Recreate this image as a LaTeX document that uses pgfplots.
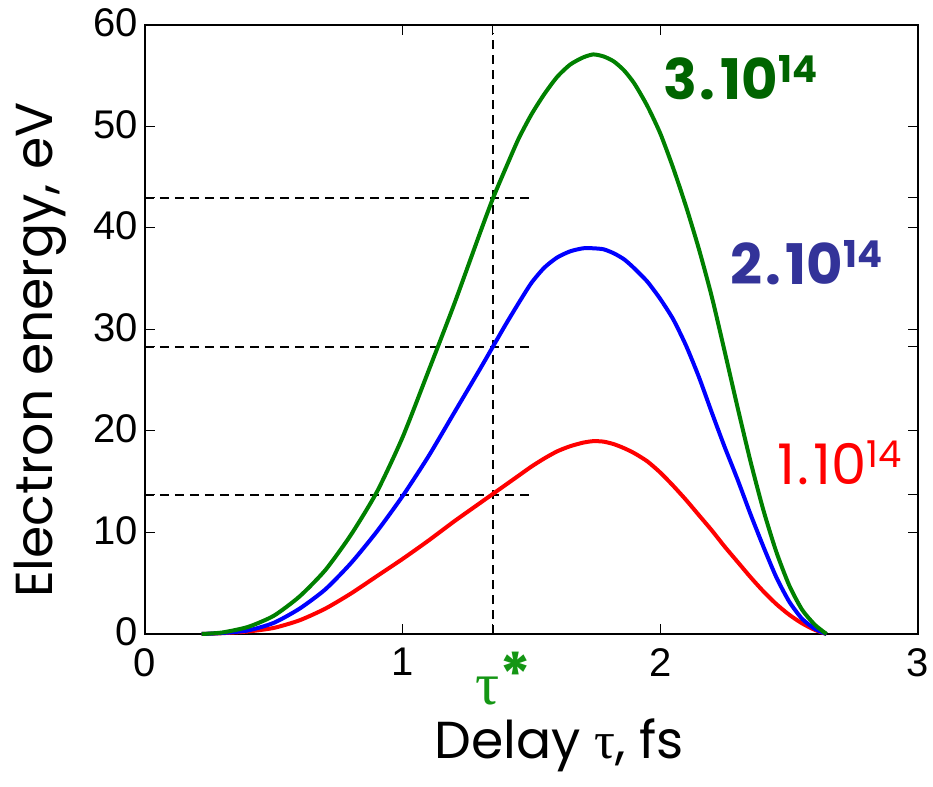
\documentclass[border=0pt]{standalone}
\usepackage{pgfplots}
\pgfplotsset{compat=1.18}
\usepackage{fontspec}
\setmainfont{Liberation Sans}
\newfontfamily\comic{Poppins}
\newfontfamily\greek{Liberation Serif}
\definecolor{cgreen}{RGB}{0,128,0}
\definecolor{dgreen}{RGB}{0,100,0}
\definecolor{tgreen}{RGB}{20,150,20}
\definecolor{navy}{RGB}{51,51,153}
\pgfplotstableread{
x     red    blue  green
0.22  0.0    0.0   0.0
0.30  0.08   0.1   0.15
0.40  0.25   0.35  0.7
0.50  0.6    1.1   1.8
0.60  1.35   2.5   3.7
0.70  2.5    4.4   6.3
0.80  4.0    7.0   9.8
0.90  5.7    10.1  14.0
1.00  7.4    13.6  19.4
1.10  9.2    17.5  25.9
1.20  11.1   21.8  32.5
1.30  12.9   26.1  39.5
1.35  13.8   28.3  42.9
1.40  14.7   30.5  45.9
1.45  15.6   32.6  48.8
1.50  16.5   34.6  51.2
1.55  17.3   36.1  53.2
1.60  18.0   37.1  54.9
1.65  18.5   37.7  56.1
1.70  18.85  38.0  56.8
1.74  19.0   38.0  57.1
1.78  18.95  37.9  56.9
1.82  18.7   37.5  56.4
1.86  18.3   36.9  55.5
1.90  17.8   36.0  54.2
1.95  17.0   34.7  52.0
2.00  15.9   33.0  49.3
2.05  14.6   31.0  45.9
2.10  13.2   28.4  42.1
2.15  11.7   25.3  37.9
2.20  10.2   21.8  33.2
2.25  8.6    18.4  27.8
2.30  7.1    15.2  22.3
2.35  5.6    11.8  17.0
2.40  4.2    8.6   12.2
2.45  2.95   5.6   8.1
2.50  1.9    3.2   4.8
2.55  1.05   1.5   2.4
2.60  0.4    0.5   0.9
2.645 0.0    0.0   0.0
}\datatable
\begin{document}
\begin{tikzpicture}
\begin{axis}[name=ax,
  width=773pt, height=609pt, scale only axis,
  xmin=0, xmax=3, ymin=0, ymax=60,
  xtick={0,1,1.35,2,3}, xticklabels={0,1,,2,3},
  ytick={0,10,13.7,20,28.3,30,40,43,50,60},
  yticklabels={0,10,,20,,30,40,,50,60},
  tick align=inside, major tick length=10pt,
  tick style={black, line width=1pt},
  axis line style={line width=1.5pt},
  ticklabel style={font=\fontsize{40}{40}\selectfont, inner sep=1pt},
  xticklabel style={yshift=-13pt},
  yticklabel style={xshift=-6pt, yshift=2pt},
  /pgf/number format/assume math mode=true,
  xlabel={\comic Delay {\greek τ}, fs},
  ylabel={\comic Electron energy, eV},
  label style={font=\fontsize{52}{52}\selectfont},
  xlabel style={at={(axis description cs:0.536,-0.182)}, anchor=center},
  ylabel style={at={(axis description cs:-0.135,0.466)}, anchor=center},
  clip=false,
]
\addplot[black, line width=2pt, dash pattern=on 9pt off 6pt] coordinates {(1.35,0) (1.35,59.2)};
\addplot[black, line width=2pt, dash pattern=on 9pt off 6pt] coordinates {(0,43) (1.5,43)};
\addplot[black, line width=2pt, dash pattern=on 9pt off 6pt] coordinates {(0,28.3) (1.5,28.3)};
\addplot[black, line width=2pt, dash pattern=on 9pt off 6pt] coordinates {(0,13.7) (1.5,13.7)};
\addplot[red, line width=4pt, smooth, tension=0.4] table[x=x, y=red] {\datatable};
\addplot[blue, line width=4pt, smooth, tension=0.4] table[x=x, y=blue] {\datatable};
\addplot[cgreen, line width=4pt, smooth, tension=0.4] table[x=x, y=green] {\datatable};
\node[anchor=base west, inner sep=0pt, text=dgreen, font=\comic\bfseries\fontsize{56}{56}\selectfont] at (axis cs:2.01,52.7) {3\kern3pt.\kern5pt10{\fontsize{37}{37}\selectfont\raisebox{0.46em}{14}}};
\node[anchor=base west, inner sep=0pt, text=navy, font=\comic\bfseries\fontsize{56}{56}\selectfont] at (axis cs:2.27,34.4) {2\kern3pt.\kern5pt10{\fontsize{37}{37}\selectfont\raisebox{0.46em}{14}}};
\node[anchor=base west, inner sep=0pt, text=red, font=\comic\fontsize{56}{56}\selectfont] at (axis cs:2.455,14.7) {1\kern2pt.\kern4pt10{\fontsize{37}{37}\selectfont\raisebox{0.46em}{14}}};
\node[anchor=base west, inner sep=0pt, text=tgreen] at (axis cs:1.28,-6.9) {{\greek\fontsize{60}{60}\selectfont τ}{\comic\bfseries\fontsize{60}{60}\selectfont\raisebox{8pt}{*}}};
\end{axis}
\path (ax.south west) ++(-145pt,-152pt);
\path (ax.north east) ++(15pt,25pt);
\end{tikzpicture}
\end{document}
